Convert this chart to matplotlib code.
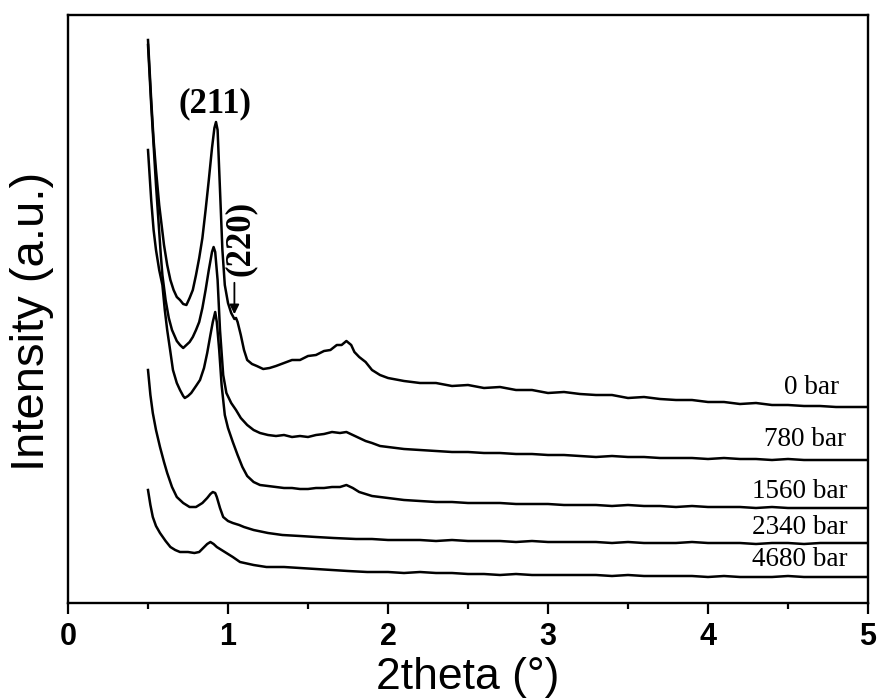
import matplotlib
matplotlib.use("Agg")
import matplotlib.pyplot as plt
from matplotlib.ticker import MultipleLocator

# shared tail grid for the flat high-angle part of every pattern
tail_theta = [2.1, 2.2, 2.3, 2.4, 2.5, 2.6, 2.7, 2.8, 2.9, 3.0,
              3.1, 3.2, 3.3, 3.4, 3.5, 3.6, 3.7, 3.8, 3.9, 4.0,
              4.1, 4.2, 4.3, 4.4, 4.5, 4.6, 4.7, 4.8, 4.9, 5.0]

theta_0 = [0.50, 0.51, 0.52, 0.535, 0.55, 0.57, 0.60, 0.62, 0.64, 0.66,
           0.68, 0.70, 0.72, 0.74, 0.76, 0.78, 0.80, 0.82, 0.84, 0.86,
           0.88, 0.90, 0.915, 0.925, 0.935, 0.95, 0.965, 0.98, 1.00, 1.02,
           1.04, 1.05, 1.06, 1.08, 1.10, 1.12, 1.15, 1.18, 1.22, 1.26,
           1.30, 1.35, 1.40, 1.45, 1.50, 1.55, 1.60, 1.64, 1.68, 1.71,
           1.74, 1.77, 1.79, 1.82, 1.86, 1.90, 1.95, 2.0] + tail_theta
int_0 = [563, 533, 503, 463, 433, 398, 358, 338, 323, 313,
         306, 303, 299, 298, 305, 313, 328, 345, 365, 393,
         423, 455, 475, 481, 473, 413, 353, 318, 300, 290,
         284, 285, 281, 268, 253, 243, 239, 237, 234, 235,
         237, 240, 243, 243, 247, 248, 252, 253, 258, 258,
         262, 258, 251, 246, 241, 233, 228, 225,
         222, 220, 220, 217, 218, 215, 216, 213, 213, 210,
         211, 209, 208, 208, 205, 206, 204, 203, 203, 201,
         201, 199, 200, 198, 198, 197, 197, 196, 196, 196]

theta_780 = [0.50, 0.51, 0.52, 0.535, 0.55, 0.565, 0.58, 0.59, 0.61, 0.63,
             0.65, 0.68, 0.70, 0.72, 0.74, 0.76, 0.78, 0.80, 0.82, 0.84,
             0.86, 0.88, 0.90, 0.91, 0.92, 0.935, 0.95, 0.97, 0.99, 1.02,
             1.05, 1.08, 1.12, 1.16, 1.20, 1.25, 1.30, 1.35, 1.40, 1.45,
             1.50, 1.55, 1.60, 1.65, 1.70, 1.74, 1.78, 1.82, 1.86, 1.90,
             1.95, 2.0] + tail_theta
int_780 = [558, 528, 498, 458, 418, 383, 348, 328, 303, 285,
           273, 262, 258, 255, 258, 261, 266, 273, 281, 295,
           313, 333, 351, 356, 351, 323, 273, 228, 210, 200,
           193, 185, 178, 173, 170, 168, 167, 168, 166, 167,
           166, 168, 169, 171, 170, 171, 168, 165, 162, 160,
           157, 156,
           154, 153, 152, 151, 151, 150, 150, 149, 149, 148,
           148, 147, 146, 147, 146, 146, 145, 145, 145, 144,
           145, 144, 144, 143, 144, 143, 143, 143, 143, 143]

theta_1560 = [0.50, 0.51, 0.52, 0.535, 0.55, 0.57, 0.59, 0.605, 0.62, 0.64,
              0.656, 0.68, 0.70, 0.72, 0.73, 0.75, 0.77, 0.80, 0.825, 0.85,
              0.87, 0.89, 0.905, 0.92, 0.93, 0.945, 0.96, 0.98, 1.00, 1.03,
              1.06, 1.09, 1.12, 1.16, 1.20, 1.25, 1.30, 1.35, 1.40, 1.45,
              1.50, 1.55, 1.60, 1.65, 1.70, 1.74, 1.78, 1.82, 1.86, 1.90,
              1.95, 2.0] + tail_theta
int_1560 = [453, 428, 403, 373, 353, 333, 318, 293, 273, 251,
            233, 220, 213, 207, 205, 207, 210, 217, 223, 235,
            250, 268, 281, 291, 281, 253, 218, 188, 175, 161,
            148, 136, 127, 121, 118, 117, 116, 115, 115, 114,
            114, 115, 115, 116, 116, 118, 115, 111, 109, 107,
            106, 105,
            103, 102, 101, 101, 100, 100, 100, 99, 99, 99,
            98, 98, 98, 97, 98, 97, 97, 96, 97, 96,
            96, 96, 95, 96, 95, 95, 95, 95, 95, 95]

theta_2340 = [0.50, 0.515, 0.53, 0.55, 0.575, 0.60, 0.62, 0.65, 0.68, 0.72,
              0.76, 0.80, 0.84, 0.87, 0.89, 0.905, 0.92, 0.93, 0.95, 0.97,
              1.00, 1.03, 1.07, 1.10, 1.16, 1.25, 1.34, 1.45, 1.55, 1.66,
              1.8, 1.9, 2.0] + tail_theta
int_2340 = [233, 208, 190, 173, 156, 141, 130, 116, 106, 100,
            96, 96, 100, 105, 109, 111, 110, 106, 95, 86,
            82, 80, 78, 76, 73, 70, 68, 67, 66, 65,
            64, 64, 63,
            63, 63, 62, 63, 62, 62, 62, 61, 62, 61,
            61, 61, 61, 60, 61, 60, 60, 60, 61, 60,
            60, 60, 59, 60, 60, 59, 60, 60, 60, 60]

theta_4680 = [0.50, 0.515, 0.53, 0.55, 0.575, 0.61, 0.64, 0.67, 0.70, 0.75,
              0.79, 0.82, 0.845, 0.87, 0.89, 0.91, 0.93, 0.96, 0.99, 1.03,
              1.075, 1.16, 1.24, 1.35, 1.45, 1.55, 1.65, 1.75, 1.87, 2.0] + tail_theta
int_4680 = [113, 98, 86, 77, 70, 62, 56, 53, 51, 51,
            50, 51, 55, 59, 61, 59, 56, 53, 50, 46,
            41, 38, 36, 36, 35, 34, 33, 32, 31, 31,
            30, 31, 30, 30, 29, 29, 28, 29, 28, 28,
            28, 28, 28, 27, 28, 27, 27, 27, 27, 26,
            27, 26, 26, 26, 27, 26, 26, 26, 26, 26]

series = [
    ("0 bar", theta_0, int_0),
    ("780 bar", theta_780, int_780),
    ("1560 bar", theta_1560, int_1560),
    ("2340 bar", theta_2340, int_2340),
    ("4680 bar", theta_4680, int_4680),
]

# label anchors (right edge x, centre y) per pattern
label_x = [4.82, 4.86, 4.875, 4.875, 4.875]
label_y = [215, 163, 111, 76, 43]

serif = "Liberation Serif"
sans = "Liberation Sans"

fig = plt.figure(figsize=(8.78, 6.99), dpi=100)
ax = fig.add_axes([68 / 878, 96 / 699, 800 / 878, 588 / 699])

for (name, x, y), lx, ly in zip(series, label_x, label_y):
    ax.plot(x, y, color="black", linewidth=1.8)
    ax.text(lx, ly, name, ha="right", va="center",
            fontsize=19.5, family=serif)

ax.text(0.92, 499, "(211)", ha="center", va="center",
        fontsize=25, family=serif, fontweight="bold")
ax.text(1.08, 365, "(220)", ha="center", va="center", rotation=90,
        fontsize=25, family=serif, fontweight="bold")
ax.annotate("", xy=(1.04, 286), xytext=(1.04, 323),
            arrowprops=dict(arrowstyle="-|>", color="black", lw=1.3,
                            mutation_scale=14))

ax.set_xlim(0, 5)
ax.set_ylim(0, 588)
ax.xaxis.set_major_locator(MultipleLocator(1))
ax.xaxis.set_minor_locator(MultipleLocator(0.5))
ax.set_yticks([])
ax.tick_params(axis="x", which="major", direction="out", length=8,
               width=1.6, pad=6)
ax.tick_params(axis="x", which="minor", direction="out", length=4.5,
               width=1.6)
for lab in ax.get_xticklabels():
    lab.set_family(sans)
    lab.set_fontweight("bold")
    lab.set_fontsize(22)
for sp in ax.spines.values():
    sp.set_linewidth(1.7)

ax.set_xlabel("2theta (°)", fontsize=32, family=sans, labelpad=3)
ax.set_ylabel("Intensity (a.u.)", fontsize=34, family=sans)
ax.yaxis.set_label_coords(-0.017, 0.478)

fig.savefig("out.png", dpi=100)
